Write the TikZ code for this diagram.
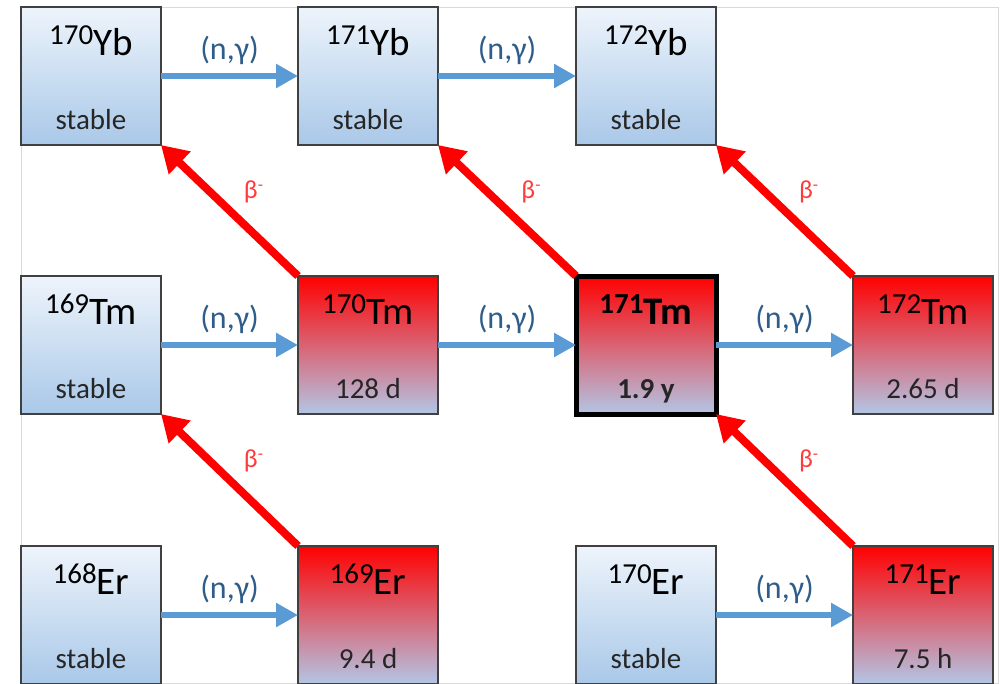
\documentclass[tikz,border=0pt]{standalone}
\usepackage{fontspec}
\setmainfont{Carlito}
\usetikzlibrary{arrows.meta}
\definecolor{bluetop}{HTML}{EEF4FB}
\definecolor{bluebot}{HTML}{A9C8E8}
\definecolor{redtop}{HTML}{FF0000}
\definecolor{redmid}{HTML}{D9606E}
\definecolor{redbot}{HTML}{B3C6E6}
\definecolor{boxline}{HTML}{404040}
\definecolor{ngblue}{HTML}{5B9BD5}
\definecolor{ngtext}{HTML}{2F5D8A}
\definecolor{betared}{HTML}{FF0000}
\definecolor{betatext}{HTML}{FF3B3B}
\definecolor{framegray}{HTML}{D9D9D9}
\newcommand{\isotope}[2]{\raisebox{11pt}{\fontsize{29pt}{29pt}\selectfont #1}#2}
\begin{document}
\begin{tikzpicture}[x=1pt,y=-1pt,
  isobox/.style={draw=boxline, line width=1.2pt, minimum width=140pt, minimum height=138pt, inner sep=0pt, outer sep=0pt, anchor=center},
  stablebox/.style={isobox, top color=bluetop, bottom color=bluebot},
  hotbox/.style={isobox, top color=redtop, middle color=redmid, bottom color=redbot},
  isoname/.style={anchor=base, inner sep=0pt, font=\fontsize{39pt}{39pt}\selectfont, text=black},
  isolife/.style={anchor=base, inner sep=0pt, font=\fontsize{29pt}{29pt}\selectfont, text=black!85},
  ng/.style={draw=ngblue, line width=6.5pt, -{Triangle[length=22pt,width=23pt]}},
  ngl/.style={midway, anchor=base, yshift=17pt, inner sep=0pt, text=ngtext, font=\fontsize{32pt}{32pt}\selectfont},
  beta/.style={draw=betared, line width=8pt, -{Triangle[length=26pt,width=30pt]}},
  betal/.style={midway, xshift=24pt, yshift=19pt, inner sep=0pt, text=betatext, font=\fontsize{26pt}{26pt}\selectfont}]
\useasboundingbox (0,0) rectangle (1003,683);
\draw[framegray, line width=1pt] (21,7) rectangle (998,683);
% boxes
\node[stablebox] (yb170) at (91,76) {};
\node[stablebox] (yb171) at (368,76) {};
\node[stablebox] (yb172) at (646,76) {};
\node[stablebox] (tm169) at (91,345) {};
\node[hotbox] (tm170) at (368,345) {};
\node[hotbox, draw=black, line width=5pt] (tm171) at (646,345) {};
\node[hotbox] (tm172) at (923,345) {};
\node[stablebox] (er168) at (91,615) {};
\node[hotbox] (er169) at (368,615) {};
\node[stablebox] (er170) at (646,615) {};
\node[hotbox] (er171) at (923,615) {};
% texts
\foreach \b/\m/\e/\l in {yb170/170/Yb/stable, yb171/171/Yb/stable, yb172/172/Yb/stable,
  tm169/169/Tm/stable, tm170/170/Tm/128 d, tm172/172/Tm/2.65 d,
  er168/168/Er/stable, er169/169/Er/9.4 d, er170/170/Er/stable, er171/171/Er/7.5 h}{
  \node[isoname] (\b-name) at ([yshift=-48pt]\b.north) {\isotope{\m}{\e}};
  \node[isolife] (\b-life) at ([yshift=16pt]\b.south) {\l};
}
\node[isoname, font=\fontsize{39pt}{39pt}\selectfont\bfseries] (tm171-name) at ([yshift=-48pt]tm171.north) {\isotope{171}{Tm}};
\node[isolife, font=\fontsize{29pt}{29pt}\selectfont\bfseries] (tm171-life) at ([yshift=16pt]tm171.south) {1.9 y};
% (n,gamma)
\draw[ng] (yb170.east) -- (yb171.west) node[ngl] (ng1) {(n,γ)};
\draw[ng] (yb171.east) -- (yb172.west) node[ngl] (ng2) {(n,γ)};
\draw[ng] (tm169.east) -- (tm170.west) node[ngl] (ng3) {(n,γ)};
\draw[ng] (tm170.east) -- (tm171.west) node[ngl] (ng4) {(n,γ)};
\draw[ng] (tm171.east) -- (tm172.west) node[ngl] (ng5) {(n,γ)};
\draw[ng] (er168.east) -- (er169.west) node[ngl] (ng6) {(n,γ)};
\draw[ng] (er170.east) -- (er171.west) node[ngl] (ng7) {(n,γ)};
% beta decays
\draw[beta] (tm170.north west) -- (yb170.south east) node[betal] (b1) {β\raisebox{8pt}{\fontsize{17pt}{17pt}\selectfont -}};
\draw[beta] (tm171.north west) -- (yb171.south east) node[betal] (b2) {β\raisebox{8pt}{\fontsize{17pt}{17pt}\selectfont -}};
\draw[beta] (tm172.north west) -- (yb172.south east) node[betal] (b3) {β\raisebox{8pt}{\fontsize{17pt}{17pt}\selectfont -}};
\draw[beta] (er169.north west) -- (tm169.south east) node[betal] (b4) {β\raisebox{8pt}{\fontsize{17pt}{17pt}\selectfont -}};
\draw[beta] (er171.north west) -- (tm171.south east) node[betal] (b5) {β\raisebox{8pt}{\fontsize{17pt}{17pt}\selectfont -}};
\end{tikzpicture}
\end{document}
